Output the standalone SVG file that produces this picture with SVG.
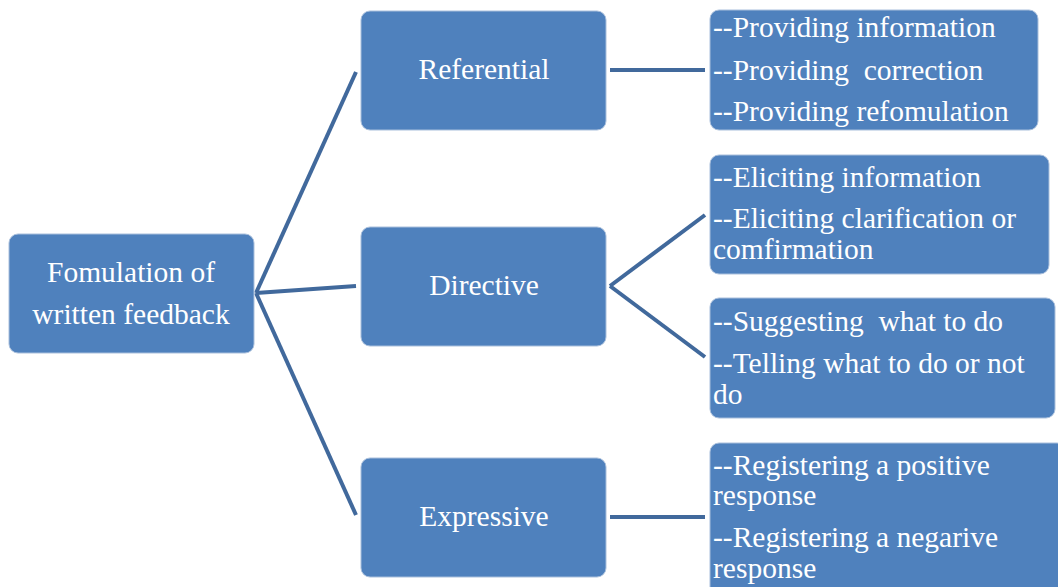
<svg xmlns="http://www.w3.org/2000/svg" width="1058" height="587" viewBox="0 0 1058 587">
  <style>
    .box { fill: #4f81bd; stroke: #a9bfdc; stroke-width: 1; }
    .link { stroke: #41699c; stroke-width: 4; fill: none; }
    .t { font-family: "Liberation Serif", "Times New Roman", serif; font-size: 29.5px; fill: #ffffff; }
    .c { text-anchor: middle; }
  </style>
  <rect width="1058" height="587" fill="#ffffff"/>

  <!-- connectors -->
  <g id="connectors">
    <line class="link" x1="256" y1="293" x2="356" y2="72"/>
    <line class="link" x1="256" y1="293" x2="356" y2="286"/>
    <line class="link" x1="256" y1="293" x2="356" y2="515"/>
    <line class="link" x1="610" y1="70" x2="705" y2="70"/>
    <line class="link" x1="610" y1="286" x2="705" y2="215"/>
    <line class="link" x1="610" y1="286" x2="705" y2="357"/>
    <line class="link" x1="610" y1="517" x2="705" y2="517"/>
  </g>

  <g id="root">
    <rect class="box" x="9" y="234" width="245" height="119" rx="9"/>
    <text class="t c" x="131" y="282">Fomulation of</text>
    <text class="t c" x="131" y="324">written feedback</text>
  </g>

  <g id="referential">
    <rect class="box" x="361" y="11" width="245" height="119" rx="9"/>
    <text class="t c" x="484" y="79">Referential</text>
  </g>

  <g id="directive">
    <rect class="box" x="361" y="227" width="245" height="119" rx="9"/>
    <text class="t c" x="484" y="295">Directive</text>
  </g>

  <g id="expressive">
    <rect class="box" x="361" y="458" width="245" height="119" rx="9"/>
    <text class="t c" x="484" y="526">Expressive</text>
  </g>

  <g id="providing">
    <rect class="box" x="710" y="10" width="328" height="120" rx="9"/>
    <text class="t" x="713" y="37">--Providing information</text>
    <text class="t" x="713" y="80" xml:space="preserve">--Providing  correction</text>
    <text class="t" x="713" y="121">--Providing refomulation</text>
  </g>

  <g id="eliciting">
    <rect class="box" x="710" y="155" width="339" height="119" rx="9"/>
    <text class="t" x="713" y="187">--Eliciting information</text>
    <text class="t" x="713" y="228">--Eliciting clarification or</text>
    <text class="t" x="713" y="259">comfirmation</text>
  </g>

  <g id="suggesting">
    <rect class="box" x="710" y="298" width="345" height="120" rx="9"/>
    <text class="t" x="713" y="331" xml:space="preserve">--Suggesting  what to do</text>
    <text class="t" x="713" y="373">--Telling what to do or not</text>
    <text class="t" x="713" y="404">do</text>
  </g>

  <g id="registering">
    <rect class="box" x="710" y="443" width="356" height="154" rx="9"/>
    <text class="t" x="713" y="475">--Registering a positive</text>
    <text class="t" x="713" y="505">response</text>
    <text class="t" x="713" y="547">--Registering a negarive</text>
    <text class="t" x="713" y="578">response</text>
  </g>
</svg>
